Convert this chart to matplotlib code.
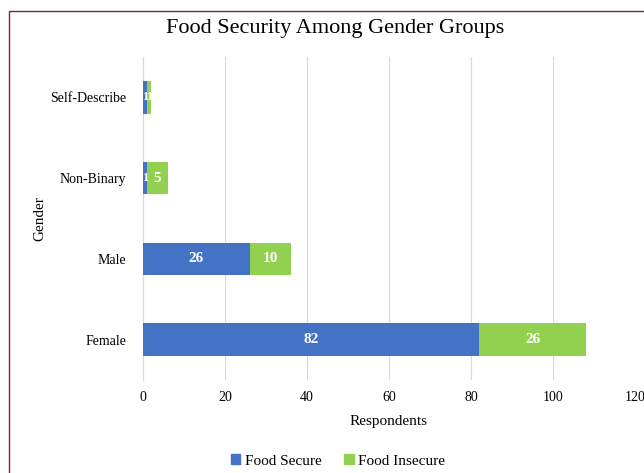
import matplotlib
matplotlib.use("Agg")
import matplotlib.pyplot as plt
from matplotlib.patches import Rectangle

categories = ["Female", "Male", "Non-Binary", "Self-Describe"]
food_secure = [82, 26, 1, 1]
food_insecure = [26, 10, 5, 1]
xticks = [0, 20, 40, 60, 80, 100, 120]

plt.rcParams['font.family'] = ['Liberation Serif', 'DejaVu Serif']

W, H = 644, 473
fig = plt.figure(figsize=(W/100, H/100), dpi=100)
ax = fig.add_axes([143/W, 1-380/H, (635-143)/W, (380-57)/H])

y = list(range(len(categories)))
blue = "#4472C4"
green = "#92D050"
h = 0.4
b1 = ax.barh(y, food_secure, height=h, color=blue, label="Food Secure", zorder=3)
b2 = ax.barh(y, food_insecure, left=food_secure, height=h, color=green, label="Food Insecure", zorder=3)

for bars, vals, lefts in [(b1, food_secure, [0]*4), (b2, food_insecure, food_secure)]:
    for yi, v, l in zip(y, vals, lefts):
        fs = 11 if v >= 5 else 9
        ax.text(l + v/2, yi, str(v), ha="center", va="center", color="white",
                fontsize=fs, fontweight="bold", zorder=4)

ax.set_xlim(0, 120)
ax.set_ylim(-0.5, 3.5)
ax.set_xticks(xticks)
ax.set_yticks(y)
ax.set_yticklabels(categories)
ax.tick_params(axis="both", length=0, labelsize=10, colors="#000000")
ax.tick_params(axis="x", pad=8)
ax.tick_params(axis="y", pad=12)
ax.grid(axis="x", color="#D9D9D9", linewidth=0.8, zorder=0)
for s in ["top", "right", "bottom"]:
    ax.spines[s].set_visible(False)
ax.spines["left"].set_color("#D9D9D9")
ax.spines["left"].set_zorder(2)

ax.set_xlabel("Respondents", fontsize=11, labelpad=8)
ax.set_ylabel("Gender", fontsize=11, labelpad=3)

fig.text(335/W, 1-28/H, "Food Security Among Gender Groups", ha="center", va="center", fontsize=16)

handles = [Rectangle((0, 0), 1, 1, color=blue), Rectangle((0, 0), 1, 1, color=green)]
fig.legend(handles, ["Food Secure", "Food Insecure"], loc="center", bbox_to_anchor=(338/W, 1-461/H),
           ncol=2, frameon=False, fontsize=11, handlelength=0.6, handleheight=0.6,
           handletextpad=0.3, columnspacing=1.5)

fig.patches.append(Rectangle((9/W, -0.1), 1.2, 1-11/H + 0.1, transform=fig.transFigure,
                             fill=False, edgecolor="#7F1F45", linewidth=1.0))

fig.savefig("out.png", dpi=100)
